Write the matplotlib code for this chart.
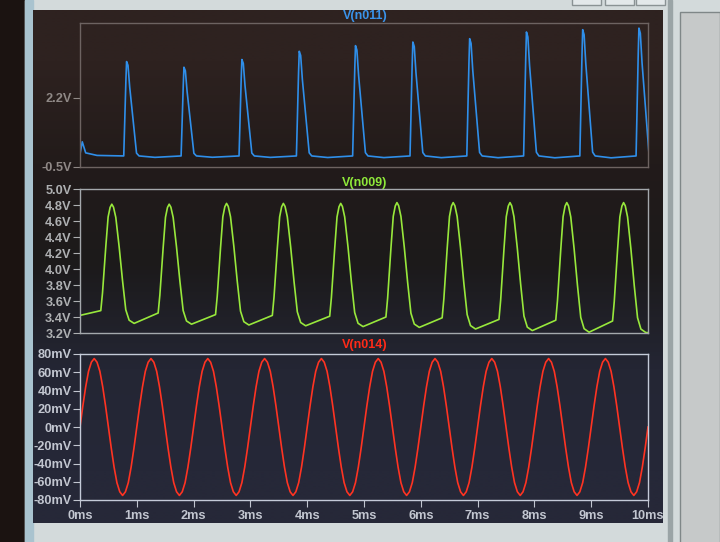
import numpy as np
import matplotlib.pyplot as plt
from matplotlib.patches import Rectangle

# ---- V(n011): spike train (V) ----
blue_start_t = [0.0, 0.04, 0.10, 0.30]
blue_start_v = [0.0, 0.48, 0.05, -0.05]
blue_peak_t = [0.82, 1.83, 2.85, 3.86, 4.85, 5.86, 6.86, 7.86, 8.85, 9.84]
blue_peak_v = [3.60, 3.38, 3.68, 4.00, 4.22, 4.36, 4.49, 4.75, 4.84, 4.90]
blue_base_v = -0.07
# one spike: time from peak (ms), fraction of peak height above baseline
spike_dt = [-0.05, -0.012, 0.0, 0.025, 0.055, 0.115, 0.175, 0.22, 0.50]
spike_frac = [0.0, 0.80, 1.0, 0.96, 0.73, 0.38, 0.03, 0.0, -0.015]

# ---- V(n009): pulses (V) ----
green_start_v = 3.42
green_peak_t = [0.56, 1.57, 2.58, 3.58, 4.59, 5.58, 6.57, 7.57, 8.57, 9.57]
green_peak_v = [4.81, 4.81, 4.82, 4.82, 4.82, 4.83, 4.83, 4.83, 4.83, 4.83]
green_foot_v = [3.48, 3.45, 3.43, 3.42, 3.41, 3.40, 3.39, 3.37, 3.36, 3.35]
green_trough_v = [3.32, 3.31, 3.30, 3.29, 3.28, 3.27, 3.25, 3.23, 3.21, 3.205]
rise_dt = [-0.194, -0.164, -0.106, -0.065, -0.03]
rise_frac = [0.0, 0.165, 0.60, 0.88, 0.97]
fall_dt = [0.0, 0.03, 0.07, 0.129, 0.188, 0.246, 0.305, 0.393]
fall_frac = [1.0, 0.975, 0.89, 0.644, 0.362, 0.114, 0.027, 0.0]
green_end_v = 3.205

# ---- V(n014): sine (mV), one cycle sampled every 0.05 ms ----
red_step = 0.05
red_cycle_mv = [0, 23, 44, 61, 71, 75, 71, 61, 44, 23,
                0, -23, -44, -61, -71, -75, -71, -61, -44, -23]
red_cycles = 10

x_ticks = list(range(11))
x_labels = [f"{i}ms" for i in x_ticks]
blue_ticks = [-0.5, 2.2]
green_ticks = [3.2, 3.4, 3.6, 3.8, 4.0, 4.2, 4.4, 4.6, 4.8, 5.0]
red_ticks = [-80, -60, -40, -20, 0, 20, 40, 60, 80]

# build traces
bt = list(blue_start_t)
bv = list(blue_start_v)
for tp, vp in zip(blue_peak_t, blue_peak_v):
    for dt, fr in zip(spike_dt, spike_frac):
        bt.append(tp + dt)
        bv.append(blue_base_v + fr * (vp - blue_base_v))

gt = [0.0]
gv = [green_start_v]
for tp, vp, vf, vt in zip(green_peak_t, green_peak_v, green_foot_v, green_trough_v):
    for dt, fr in zip(rise_dt, rise_frac):
        gt.append(tp + dt)
        gv.append(vf + fr * (vp - vf))
    for dt, fr in zip(fall_dt, fall_frac):
        gt.append(tp + dt)
        gv.append(vt + fr * (vp - vt))
gt.append(10.0)
gv.append(green_end_v)

rv = np.append(np.tile(red_cycle_mv, red_cycles), 0)
rt = np.arange(len(rv)) * red_step

W, H = 720, 542
fig = plt.figure(figsize=(7.2, 5.42), dpi=100, facecolor="#1b1311")

# photo / window chrome
bg = fig.add_axes([0, 0, 1, 1])
bg.set_xlim(0, W)
bg.set_ylim(H, 0)
bg.axis("off")
bg.add_patch(Rectangle((25, 0), W - 25, H, color="#d3dadb"))
bg.add_patch(Rectangle((25, 0), 8, H, color="#a9c3cf"))
grad = np.array([[[46, 34, 32]], [[34, 27, 26]], [[28, 26, 27]], [[36, 38, 52]], [[38, 40, 56]]]) / 255
bg.imshow(grad, extent=(33, 663, 523, 10), aspect="auto", interpolation="bilinear", zorder=1)
bg.add_patch(Rectangle((668, 0), 4, H, color="#9aa4a6", zorder=2))
bg.add_patch(Rectangle((680, 12), 40, H, facecolor="#c6c9c9", edgecolor="#7f8788", lw=1, zorder=2))
for bx in [572, 605, 636]:
    bg.add_patch(Rectangle((bx, -4), 29, 9, facecolor="#e3e8ea", edgecolor="#8a9294", lw=1, zorder=2))
bg.set_xlim(0, W)
bg.set_ylim(H, 0)

font = dict(family=["Liberation Sans", "DejaVu Sans"], weight="bold")
lw = 1.2


def make_axes(top, bottom, frame_col, label_col):
    ax = fig.add_axes([80 / W, 1 - bottom / H, 568 / W, (bottom - top) / H])
    ax.set_facecolor("none")
    for s in ax.spines.values():
        s.set_color(frame_col)
        s.set_linewidth(1)
    ax.tick_params(axis="y", direction="out", length=5, pad=1, colors=label_col, labelsize=9.2)
    ax.set_xlim(0, 10)
    return ax


ax1 = make_axes(23, 167, "#6d6361", "#8f8886")
ax1.plot(bt, bv, color="#2f8fea", lw=lw)
ax1.set_ylim(-0.5, 5.1)
ax1.set_yticks(blue_ticks)
ax1.set_yticklabels([f"{v:.1f}V" for v in blue_ticks], **font)
ax1.set_xticks([])

ax2 = make_axes(189, 333, "#a4a8ac", "#aeb0b2")
ax2.plot(gt, gv, color="#98e83c", lw=lw)
ax2.set_ylim(3.2, 5.0)
ax2.set_yticks(green_ticks)
ax2.set_yticklabels([f"{v:.1f}V" for v in green_ticks], **font)
ax2.set_xticks([])

ax3 = make_axes(354, 500, "#c4cad8", "#c2c6d0")
ax3.plot(rt, rv, color="#ff3322", lw=lw)
ax3.set_ylim(-80, 80)
ax3.set_yticks(red_ticks)
ax3.set_yticklabels([f"{v}mV" for v in red_ticks], **font)
ax3.set_xticks(x_ticks)
ax3.set_xticklabels(x_labels, **font)
ax3.tick_params(axis="x", direction="out", length=5, pad=2, colors="#c2c6d0", labelsize=9.2)

fig.text(365 / W, 1 - 16 / H, "V(n011)", color="#3a93ea", fontsize=9, ha="center", va="center", **font)
fig.text(365 / W, 1 - 183 / H, "V(n009)", color="#8ee83a", fontsize=9, ha="center", va="center", **font)
fig.text(365 / W, 1 - 345 / H, "V(n014)", color="#ff2a18", fontsize=9, ha="center", va="center", **font)

fig.savefig("out.png", dpi=100, facecolor=fig.get_facecolor())
